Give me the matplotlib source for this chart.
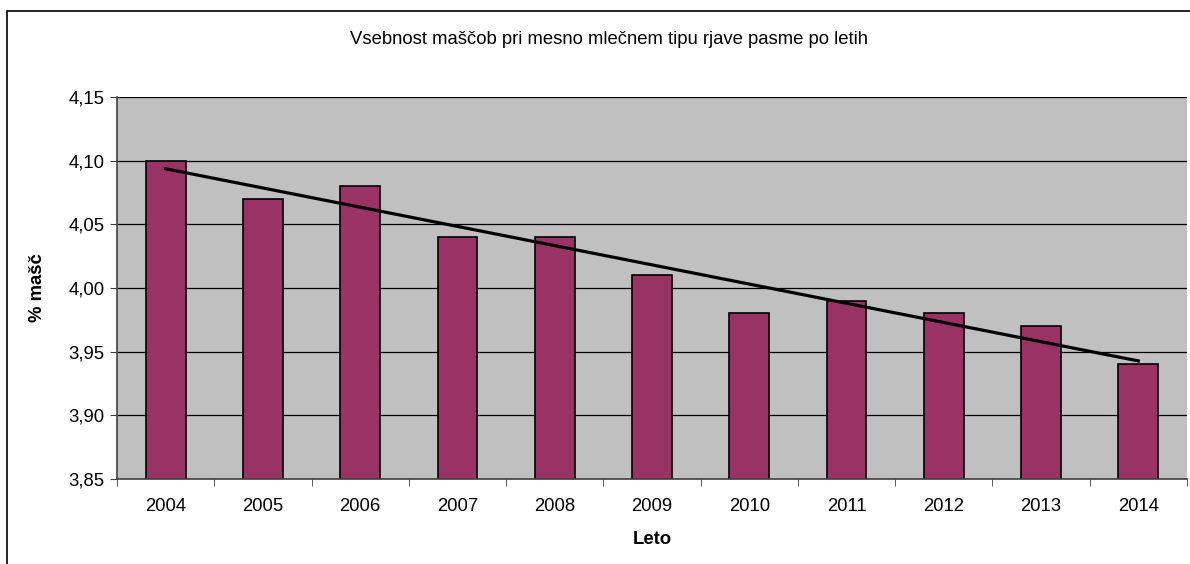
import numpy as np
import matplotlib
matplotlib.use("Agg")
import matplotlib.pyplot as plt
from matplotlib.patches import Rectangle

years = ["2004", "2005", "2006", "2007", "2008", "2009", "2010", "2011", "2012", "2013", "2014"]
fat = [4.10, 4.07, 4.08, 4.04, 4.04, 4.01, 3.98, 3.99, 3.98, 3.97, 3.94]
yticks = [3.85, 3.90, 3.95, 4.00, 4.05, 4.10, 4.15]

plt.rcParams["font.family"] = ["Liberation Sans", "DejaVu Sans"]
fs = 13.3

fig = plt.figure(figsize=(11.9, 5.64), dpi=100)
ax = fig.add_axes([117 / 1190, 1 - 479 / 564, 1070 / 1190, 382 / 564])

x = np.arange(len(years))
ax.set_facecolor("#C0C0C0")
ax.set_axisbelow(True)
ax.yaxis.grid(True, color="black", linewidth=0.9)
ax.bar(x, fat, width=0.41, color="#993366", edgecolor="black", linewidth=1.2, bottom=0,
       zorder=2)

# linear trend line (Excel style)
k, n = np.polyfit(x, fat, 1)
ax.plot(x, k * x + n, color="black", linewidth=2.3, zorder=3)

ax.set_xlim(-0.5, len(years) - 0.5)
ax.set_ylim(3.85, 4.15)
ax.set_yticks(yticks)
ax.set_yticklabels([("%.2f" % v).replace(".", ",") for v in yticks])
ax.set_xticks(x)
ax.set_xticklabels(years)
ax.set_xticks(np.arange(-0.5, len(years)), minor=True)
ax.tick_params(axis="x", which="major", length=0, pad=14, labelsize=fs)
ax.tick_params(axis="x", which="minor", length=5, direction="out", color="#404040")
ax.tick_params(axis="y", length=5, direction="out", color="#404040", labelsize=fs, pad=4)

for s in ["top", "right"]:
    ax.spines[s].set_visible(False)
ax.spines["left"].set_color("#404040")
ax.spines["bottom"].set_color("#404040")
ax.spines["left"].set_linewidth(1.2)
ax.spines["bottom"].set_linewidth(1.2)

ax.set_xlabel("Leto", fontsize=fs, fontweight="bold", labelpad=11)
fig.text(37 / 1190, 1 - 288 / 564, "% mašč", rotation=90, fontsize=fs, fontweight="bold",
         ha="center", va="center")
fig.text(609 / 1190, 1 - 40 / 564, "Vsebnost maščob pri mesno mlečnem tipu rjave pasme po letih",
         fontsize=fs, ha="center", va="center")

fig.patches.append(Rectangle((7 / 1190, -0.1), 1.2, 1 - 11 / 564 + 0.1, transform=fig.transFigure,
                             fill=False, edgecolor="black", linewidth=1.2))

fig.savefig("out.png", dpi=100)
